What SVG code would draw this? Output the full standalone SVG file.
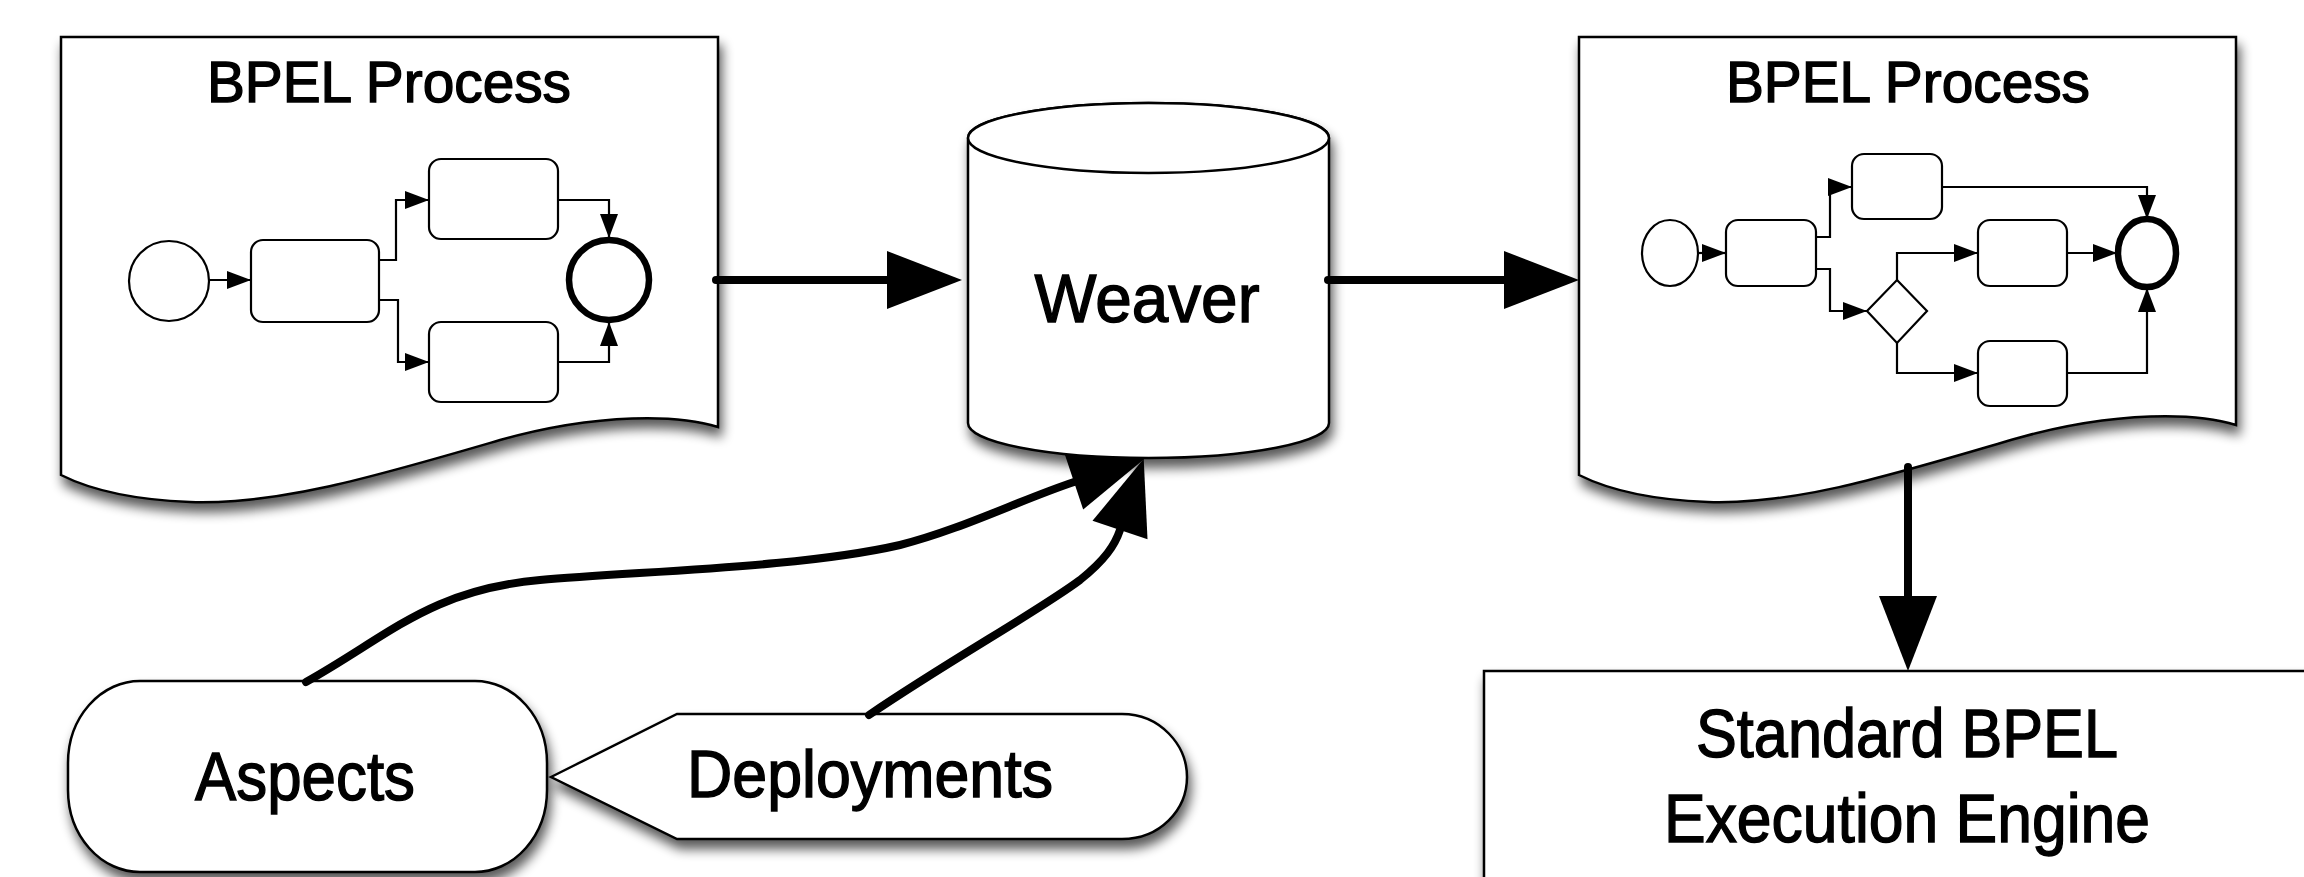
<svg xmlns="http://www.w3.org/2000/svg" width="2304" height="877" viewBox="0 0 2304 877">
<defs>
<filter id="sh" x="-10%" y="-15%" width="125%" height="140%">
<feGaussianBlur in="SourceAlpha" stdDeviation="6"/>
<feOffset dx="3" dy="9" result="o"/>
<feComponentTransfer><feFuncA type="linear" slope="0.65"/></feComponentTransfer>
<feMerge><feMergeNode/><feMergeNode in="SourceGraphic"/></feMerge>
</filter>
<marker id="big" markerUnits="userSpaceOnUse" markerWidth="90" markerHeight="70" refX="0" refY="0" viewBox="-2 -35 90 70" orient="auto" overflow="visible">
<path d="M0,-29 L75,0 L0,29 Z" fill="#000"/>
</marker>
<marker id="sm" markerUnits="userSpaceOnUse" markerWidth="30" markerHeight="24" refX="0" refY="0" viewBox="-28 -12 30 24" orient="auto" overflow="visible">
<path d="M-24,-9 L0,0 L-24,9 Z" fill="#000"/>
</marker>
</defs>
<style>
.shape{fill:#fff;stroke:#000;stroke-width:2.5}
.task{fill:#fff;stroke:#000;stroke-width:2.2}
.flow{fill:none;stroke:#000;stroke-width:2.2;marker-end:url(#sm)}
.end{fill:#fff;stroke:#000;stroke-width:6.5}
.big{fill:none;stroke:#000;stroke-width:8;stroke-linecap:round;marker-end:url(#big)}
.lbl{font-family:"Liberation Sans",Arial,sans-serif;fill:#000;stroke:#000;stroke-width:1.4;text-anchor:middle}
</style>
<rect width="2304" height="877" fill="#fff"/>

<g id="node-left-doc">
<path class="shape" filter="url(#sh)" d="M61,37 H718 V427 C680,415 600,412 500,440 C380,475 280,505 190,502 C140,500 95,492 61,475 Z"/>
<text class="lbl" x="389" y="102" font-size="58" textLength="364" lengthAdjust="spacingAndGlyphs">BPEL Process</text>
<circle class="task" cx="169" cy="281" r="40"/>
<rect class="task" x="251" y="240" width="128" height="82" rx="12"/>
<rect class="task" x="429" y="159" width="129" height="80" rx="12"/>
<rect class="task" x="429" y="322" width="129" height="80" rx="12"/>
<circle class="end" cx="609" cy="280" r="40"/>
<path class="flow" d="M209,280 H251"/>
<path class="flow" d="M379,260 H396 V200 H429"/>
<path class="flow" d="M379,300 H398 V362 H429"/>
<path class="flow" d="M558,200 H609 V238"/>
<path class="flow" d="M558,362 H609 V322"/>
</g>

<g id="node-weaver">
<path class="shape" filter="url(#sh)" d="M968,138 V423 A180.5,35 0 0 0 1329,423 V138 A180.5,35 0 0 0 968,138 Z"/>
<ellipse class="shape" cx="1148.5" cy="138" rx="180.5" ry="35"/>
<text class="lbl" x="1147" y="322" font-size="68" textLength="225" lengthAdjust="spacingAndGlyphs">Weaver</text>
</g>

<g id="node-right-doc">
<path class="shape" filter="url(#sh)" d="M1579,37 H2236 V425 C2198,413 2118,410 2018,438 C1898,473 1798,505 1708,502 C1658,500 1613,492 1579,475 Z"/>
<text class="lbl" x="1908" y="102" font-size="58" textLength="364" lengthAdjust="spacingAndGlyphs">BPEL Process</text>
<ellipse class="task" cx="1670" cy="253" rx="28" ry="33"/>
<rect class="task" x="1726" y="220" width="90" height="66" rx="12"/>
<rect class="task" x="1852" y="154" width="90" height="65" rx="12"/>
<rect class="task" x="1978" y="220" width="89" height="66" rx="12"/>
<rect class="task" x="1978" y="341" width="89" height="65" rx="12"/>
<path class="task" d="M1897,280 L1927,311 L1897,343 L1867,311 Z"/>
<ellipse class="end" cx="2147" cy="253" rx="29" ry="34"/>
<path class="flow" d="M1698,253 H1726"/>
<path class="flow" d="M1816,237 H1830 V187 H1852"/>
<path class="flow" d="M1816,269 H1830 V311 H1867"/>
<path class="flow" d="M1897,280 V253 H1978"/>
<path class="flow" d="M1897,343 V373 H1978"/>
<path class="flow" d="M1942,187 H2147 V219"/>
<path class="flow" d="M2067,253 H2117"/>
<path class="flow" d="M2067,373 H2147 V288"/>
</g>

<g id="node-engine">
<rect class="shape" filter="url(#sh)" x="1484" y="671" width="900" height="300"/>
<text class="lbl" x="1907" y="757" font-size="68" textLength="422" lengthAdjust="spacingAndGlyphs">Standard BPEL</text>
<text class="lbl" x="1907" y="842" font-size="68" textLength="486" lengthAdjust="spacingAndGlyphs">Execution Engine</text>
</g>

<g id="node-aspects">
<rect class="shape" filter="url(#sh)" x="68" y="681" width="479" height="191" rx="72" ry="82"/>
<text class="lbl" x="305" y="800" font-size="68" textLength="220" lengthAdjust="spacingAndGlyphs">Aspects</text>
</g>

<g id="node-deployments">
<path class="shape" filter="url(#sh)" d="M551,777 L677,714 H1122 C1160,714 1187,745 1187,777 C1187,810 1160,839 1122,839 H677 Z"/>
<text class="lbl" x="870" y="797" font-size="66" textLength="366" lengthAdjust="spacingAndGlyphs">Deployments</text>
</g>

<g id="connectors">
<path class="big" d="M716,280 H887"/>
<path class="big" d="M1328,280 H1504"/>
<path class="big" d="M1908,467 V596"/>
<path class="big" d="M306,682 C390,635 430,590 540,580 C640,571 800,568 900,545 C960,530 1020,500 1074,482"/>
<path class="big" d="M869,715 C950,660 1040,610 1080,580 C1105,560 1115,545 1120,530"/>
</g>
</svg>
